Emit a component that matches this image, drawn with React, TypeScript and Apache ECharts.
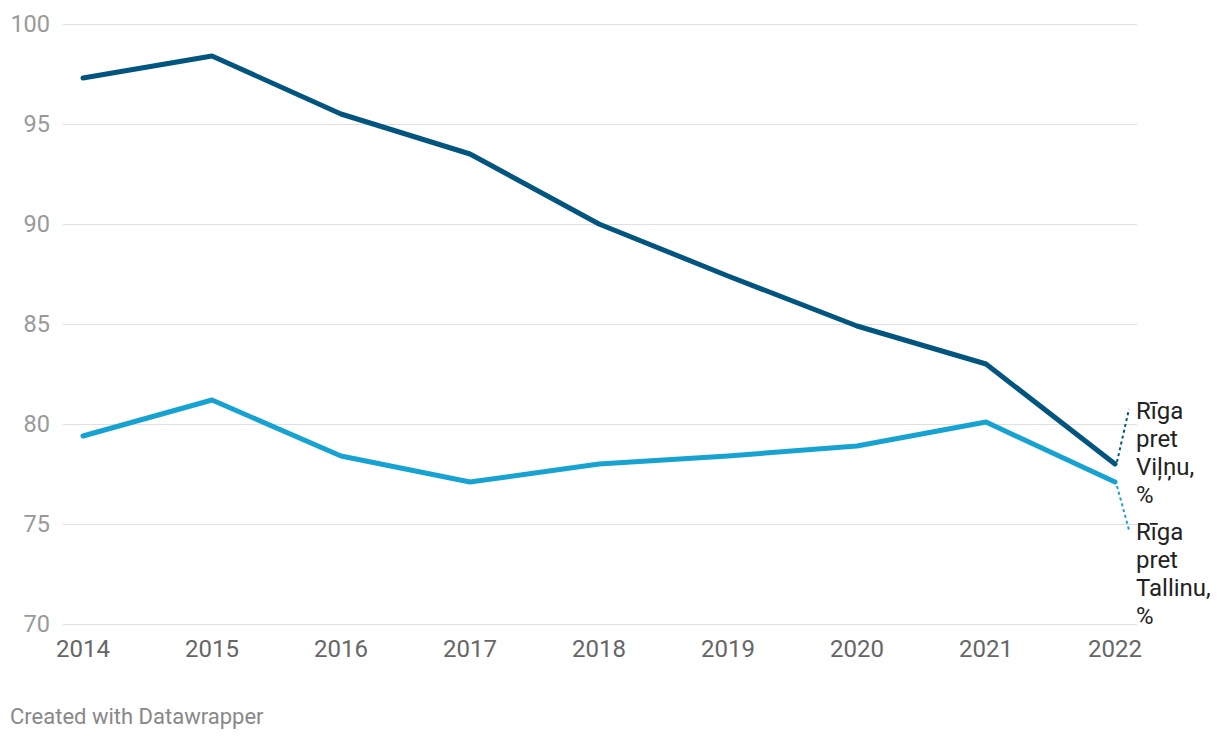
import React, { useEffect, useRef } from "react";
import * as echarts from "echarts";

const years = [2014, 2015, 2016, 2017, 2018, 2019, 2020, 2021, 2022];
const rigaVilnius = [97.3, 98.4, 95.5, 93.5, 90.0, 87.4, 84.9, 83.0, 78.0];
const rigaTallinn = [79.4, 81.2, 78.4, 77.1, 78.0, 78.4, 78.9, 80.1, 77.1];
const seriesNames = ["Rīga pret Viļņu, %", "Rīga pret Tallinu, %"];
const labelLines = [
  ["Rīga", "pret", "Viļņu,", "%"],
  ["Rīga", "pret", "Tallinu,", "%"],
];
const yTicks = [70, 75, 80, 85, 90, 95, 100];
const colors = ["#02557e", "#17a3d1"];

export default function App() {
  const ref = useRef<HTMLDivElement>(null);
  useEffect(() => {
    document.body.style.margin = "0";
    const chart = echarts.init(ref.current!, null, { renderer: "svg" });
    const font = "Roboto, 'Noto Sans', sans-serif";
    const footer = {
      type: "text",
      left: 10,
      top: 705,
      style: { text: "Created with Datawrapper", fill: "#888", fontSize: 22, fontFamily: font },
    };
    chart.setOption({
      animation: false,
      grid: { left: 63, right: 83, top: 24, bottom: 116 },
      xAxis: {
        type: "value",
        min: 2014 - 20 / 129,
        max: 2022 + 22 / 129,
        axisLine: { show: false },
        axisTick: { show: false },
        splitLine: { show: false },
        axisLabel: {
          customValues: years,
          color: "#666",
          fontSize: 24,
          fontFamily: font,
          margin: 13,
          formatter: (v: number) => String(Math.round(v)),
        },
      },
      yAxis: {
        type: "value",
        min: yTicks[0],
        max: yTicks[yTicks.length - 1],
        interval: 5,
        axisLine: { show: false },
        axisTick: { show: false },
        splitLine: { lineStyle: { color: "#e0e0e0", width: 1 } },
        axisLabel: { color: "#999", fontSize: 23.5, fontFamily: font, margin: 13 },
      },
      series: [rigaVilnius, rigaTallinn].map((d, i) => ({
        name: seriesNames[i],
        type: "line",
        data: d.map((v, j) => [years[j], v]),
        showSymbol: false,
        symbol: "none",
        lineStyle: { color: colors[i], width: 5, cap: "round", join: "round" },
        z: 3 - i,
      })),
      graphic: [footer],
    });

    const last = years.length - 1;
    const p0 = chart.convertToPixel({ gridIndex: 0 }, [years[last], rigaVilnius[last]]) as number[];
    const p1 = chart.convertToPixel({ gridIndex: 0 }, [years[last], rigaTallinn[last]]) as number[];
    const lx = 1136;
    const elems: any[] = [
      {
        type: "line",
        shape: { x1: p0[0] + 2, y1: p0[1] - 2, x2: p0[0] + 14, y2: p0[1] - 55 },
        style: { stroke: colors[0], lineWidth: 2, lineDash: [3, 3] },
      },
      {
        type: "line",
        shape: { x1: p1[0] + 2, y1: p1[1] + 4, x2: p1[0] + 14, y2: p1[1] + 48 },
        style: { stroke: colors[1], lineWidth: 2, lineDash: [3, 3] },
      },
    ];
    const tops = [p0[1] - 65, p1[1] + 38];
    labelLines.forEach((lines, i) => {
      lines.forEach((t, k) => {
        elems.push({
          type: "text",
          x: lx,
          y: tops[i] + k * 28,
          style: { text: t, fill: "#222", fontSize: 24, fontFamily: font, textVerticalAlign: "top" },
        });
      });
    });
    chart.setOption({ graphic: elems.concat([footer]) }, { replaceMerge: ["graphic"] });

    return () => chart.dispose();
  }, []);
  return <div ref={ref} style={{ width: 1220, height: 740 }} />;
}
